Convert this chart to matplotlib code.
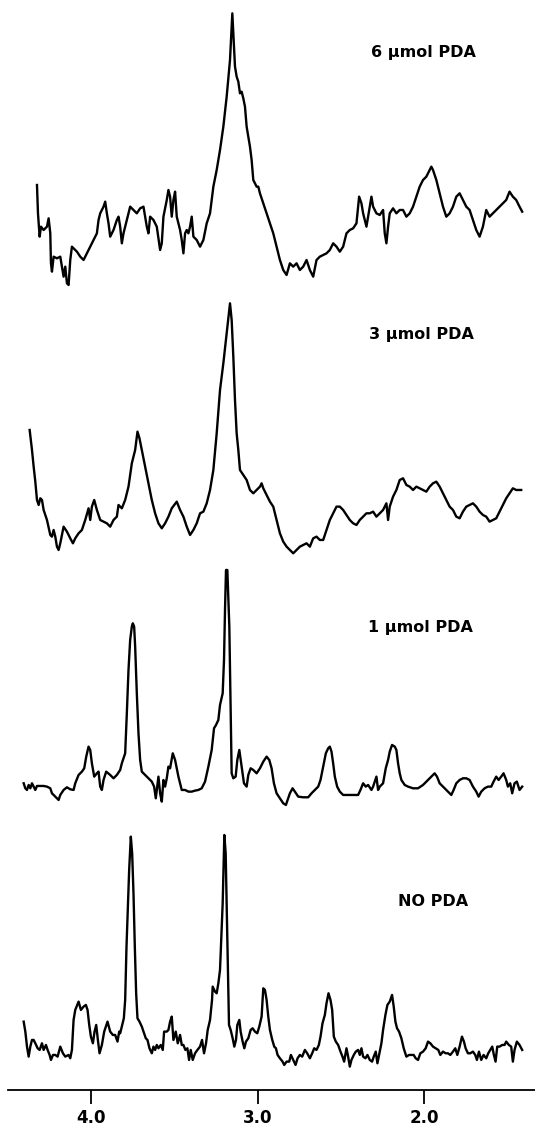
import matplotlib
matplotlib.use("Agg")
import matplotlib.pyplot as plt

# chemical shift (ppm) and intensity (arbitrary units)
ppm_6 = [4.326, 4.320, 4.310, 4.302, 4.286, 4.266, 4.256, 4.246, 4.242, 4.236, 4.226, 4.206, 4.186, 4.176,
         4.166, 4.156, 4.146, 4.136, 4.126, 4.116, 4.106, 4.086, 4.066, 4.046, 4.026, 4.006, 3.986, 3.966,
         3.956, 3.946, 3.926, 3.916, 3.906, 3.896, 3.886, 3.866, 3.846, 3.836, 3.826, 3.816, 3.806, 3.786,
         3.766, 3.746, 3.726, 3.706, 3.686, 3.666, 3.656, 3.646, 3.626, 3.606, 3.586, 3.576, 3.566, 3.546,
         3.536, 3.526, 3.516, 3.506, 3.496, 3.486, 3.466, 3.456, 3.446, 3.436, 3.426, 3.416, 3.406, 3.396,
         3.386, 3.366, 3.346, 3.326, 3.306, 3.286, 3.266, 3.246, 3.226, 3.206, 3.186, 3.166, 3.152, 3.146,
         3.136, 3.126, 3.116, 3.106, 3.096, 3.086, 3.076, 3.066, 3.056, 3.046, 3.036, 3.026, 3.016, 3.006,
         2.996, 2.986, 2.966, 2.946, 2.926, 2.906, 2.886, 2.866, 2.846, 2.826, 2.806, 2.786, 2.766, 2.746,
         2.726, 2.706, 2.686, 2.666, 2.646, 2.626, 2.606, 2.586, 2.566, 2.546, 2.526, 2.506, 2.486, 2.466,
         2.446, 2.426, 2.406, 2.390, 2.376, 2.366, 2.346, 2.326, 2.316, 2.306, 2.286, 2.266, 2.246, 2.236,
         2.226, 2.216, 2.206, 2.186, 2.166, 2.146, 2.126, 2.106, 2.086, 2.066, 2.046, 2.026, 2.006, 1.986,
         1.966, 1.956, 1.946, 1.926, 1.906, 1.886, 1.866, 1.846, 1.826, 1.806, 1.786, 1.766, 1.746, 1.726,
         1.706, 1.686, 1.666, 1.646, 1.626, 1.606, 1.586, 1.566, 1.546, 1.526, 1.506, 1.486, 1.466, 1.446,
         1.426, 1.410]
int_6 = [305, 220, 150, 180, 170, 180, 205, 160, 70, 45, 90, 85, 90, 60,
         30, 60, 10, 5, 80, 120, 115, 105, 90, 80, 100, 120, 140, 160,
         200, 220, 240, 255, 220, 190, 150, 170, 200, 210, 180, 130, 160, 200,
         240, 230, 220, 235, 240, 180, 160, 210, 200, 180, 110, 130, 210, 260,
         290, 270, 210, 260, 285, 210, 170, 140, 100, 160, 170, 160, 180, 210,
         150, 140, 120, 140, 190, 220, 300, 350, 410, 480, 570, 680, 820, 760,
         660, 630, 615, 580, 585, 565, 540, 480, 450, 420, 380, 320, 310, 300,
         300, 280, 250, 220, 190, 160, 120, 80, 50, 35, 70, 60, 70, 50,
         60, 80, 50, 30, 80, 90, 95, 100, 110, 130, 120, 105, 120, 160,
         170, 175, 190, 270, 250, 220, 180, 240, 270, 240, 220, 215, 230, 160,
         130, 180, 220, 235, 220, 230, 230, 210, 220, 240, 270, 300, 320, 330,
         350, 360, 350, 320, 280, 240, 210, 220, 240, 270, 280, 260, 240, 230,
         200, 170, 150, 180, 230, 210, 220, 230, 240, 250, 260, 285, 270, 260,
         240, 225]

ppm_3 = [4.370, 4.356, 4.346, 4.336, 4.326, 4.316, 4.306, 4.296, 4.286, 4.266, 4.246, 4.236, 4.226, 4.216,
         4.206, 4.196, 4.186, 4.166, 4.146, 4.126, 4.110, 4.096, 4.076, 4.056, 4.036, 4.016, 4.006, 3.996,
         3.982, 3.966, 3.946, 3.926, 3.906, 3.886, 3.866, 3.846, 3.836, 3.816, 3.796, 3.776, 3.756, 3.736,
         3.722, 3.710, 3.696, 3.676, 3.656, 3.636, 3.616, 3.596, 3.576, 3.556, 3.536, 3.516, 3.486, 3.466,
         3.446, 3.426, 3.406, 3.386, 3.366, 3.346, 3.326, 3.306, 3.286, 3.266, 3.246, 3.226, 3.206, 3.186,
         3.166, 3.156, 3.146, 3.136, 3.126, 3.116, 3.106, 3.086, 3.066, 3.046, 3.026, 3.006, 2.986, 2.976,
         2.966, 2.946, 2.926, 2.906, 2.886, 2.866, 2.846, 2.826, 2.806, 2.786, 2.766, 2.746, 2.726, 2.706,
         2.686, 2.666, 2.646, 2.626, 2.606, 2.586, 2.566, 2.546, 2.526, 2.506, 2.486, 2.466, 2.446, 2.426,
         2.406, 2.386, 2.366, 2.346, 2.326, 2.306, 2.286, 2.266, 2.246, 2.226, 2.216, 2.206, 2.186, 2.166,
         2.146, 2.126, 2.106, 2.086, 2.066, 2.046, 2.026, 2.006, 1.986, 1.966, 1.946, 1.926, 1.906, 1.886,
         1.866, 1.846, 1.826, 1.806, 1.786, 1.766, 1.746, 1.726, 1.706, 1.686, 1.666, 1.646, 1.626, 1.606,
         1.586, 1.566, 1.546, 1.526, 1.506, 1.486, 1.466, 1.446, 1.416]
int_3 = [380, 320, 270, 225, 170, 155, 175, 170, 140, 110, 65, 60, 80, 60,
         30, 20, 40, 90, 75, 55, 40, 55, 70, 80, 110, 145, 110, 150,
         170, 140, 110, 105, 100, 90, 110, 120, 155, 145, 170, 210, 280, 320,
         375, 355, 320, 270, 220, 170, 130, 100, 85, 100, 120, 145, 165, 140,
         120, 90, 65, 80, 100, 130, 135, 160, 200, 260, 370, 500, 580, 670,
         760, 710, 600, 470, 370, 320, 260, 245, 230, 200, 190, 200, 210, 220,
         205, 185, 165, 150, 110, 70, 45, 30, 20, 10, 20, 30, 35, 40,
         30, 55, 60, 50, 50, 80, 110, 130, 150, 150, 140, 125, 110, 100,
         95, 110, 120, 130, 130, 135, 120, 130, 140, 160, 110, 150, 180, 200,
         230, 235, 215, 210, 200, 210, 205, 200, 195, 210, 220, 225, 210, 190,
         170, 150, 140, 120, 115, 135, 150, 155, 160, 150, 135, 125, 120, 105,
         110, 115, 135, 155, 175, 190, 205, 200, 200]

ppm_1 = [4.406, 4.396, 4.386, 4.376, 4.366, 4.356, 4.346, 4.336, 4.326, 4.306, 4.286, 4.266, 4.246, 4.236,
         4.216, 4.196, 4.186, 4.166, 4.146, 4.126, 4.106, 4.096, 4.076, 4.056, 4.042, 4.030, 4.016, 4.006,
         3.996, 3.982, 3.966, 3.956, 3.946, 3.936, 3.926, 3.910, 3.886, 3.866, 3.846, 3.826, 3.816, 3.796,
         3.786, 3.776, 3.766, 3.756, 3.750, 3.742, 3.736, 3.726, 3.716, 3.706, 3.696, 3.676, 3.656, 3.636,
         3.622, 3.612, 3.606, 3.596, 3.586, 3.576, 3.566, 3.556, 3.546, 3.536, 3.526, 3.510, 3.496, 3.476,
         3.456, 3.436, 3.416, 3.396, 3.376, 3.356, 3.336, 3.316, 3.296, 3.276, 3.262, 3.250, 3.236, 3.226,
         3.210, 3.202, 3.196, 3.190, 3.182, 3.176, 3.170, 3.162, 3.156, 3.146, 3.132, 3.122, 3.110, 3.096,
         3.082, 3.066, 3.056, 3.042, 3.026, 3.006, 2.986, 2.966, 2.946, 2.930, 2.916, 2.902, 2.886, 2.866,
         2.846, 2.830, 2.816, 2.806, 2.790, 2.776, 2.756, 2.726, 2.696, 2.676, 2.656, 2.636, 2.622, 2.606,
         2.590, 2.576, 2.566, 2.556, 2.546, 2.536, 2.522, 2.506, 2.486, 2.456, 2.426, 2.396, 2.382, 2.366,
         2.350, 2.336, 2.316, 2.306, 2.286, 2.276, 2.266, 2.246, 2.230, 2.216, 2.206, 2.192, 2.176, 2.166,
         2.156, 2.146, 2.136, 2.116, 2.096, 2.066, 2.036, 2.006, 1.986, 1.966, 1.946, 1.936, 1.922, 1.906,
         1.886, 1.866, 1.846, 1.836, 1.822, 1.806, 1.786, 1.766, 1.746, 1.726, 1.706, 1.686, 1.672, 1.656,
         1.636, 1.616, 1.596, 1.582, 1.566, 1.552, 1.536, 1.522, 1.506, 1.496, 1.482, 1.470, 1.456, 1.442,
         1.426, 1.410]
int_1 = [70, 55, 50, 65, 55, 70, 60, 50, 62, 62, 62, 60, 55, 40,
         30, 20, 35, 50, 58, 52, 50, 70, 95, 105, 115, 150, 180, 170,
         130, 90, 100, 105, 60, 50, 80, 105, 95, 85, 95, 110, 130, 160,
         280, 410, 500, 540, 550, 540, 480, 340, 220, 140, 105, 95, 85, 75,
         60, 25, 50, 90, 40, 15, 80, 60, 85, 120, 115, 160, 140, 90,
         50, 50, 45, 45, 48, 50, 55, 75, 120, 170, 235, 245, 260, 305,
         340, 440, 590, 710, 710, 620, 540, 290, 100, 85, 90, 140, 170, 120,
         70, 60, 95, 115, 110, 100, 115, 135, 150, 140, 115, 70, 40, 25,
         10, 5, 25, 40, 55, 45, 30, 28, 28, 40, 50, 60, 80, 120,
         160, 175, 180, 165, 130, 90, 60, 45, 35, 35, 35, 35, 50, 70,
         60, 65, 50, 60, 90, 50, 60, 70, 115, 140, 165, 185, 180, 170,
         130, 100, 80, 65, 60, 55, 55, 65, 75, 85, 95, 100, 90, 70,
         60, 50, 40, 35, 50, 70, 80, 85, 85, 80, 60, 45, 30, 45,
         55, 60, 60, 75, 90, 80, 90, 100, 80, 60, 70, 40, 70, 75,
         50, 60]

ppm_0 = [4.406, 4.396, 4.386, 4.376, 4.366, 4.356, 4.346, 4.336, 4.322, 4.310, 4.296, 4.286, 4.272, 4.262,
         4.250, 4.242, 4.230, 4.216, 4.202, 4.186, 4.170, 4.156, 4.136, 4.126, 4.116, 4.106, 4.096, 4.076,
         4.062, 4.046, 4.032, 4.022, 4.012, 4.002, 3.990, 3.980, 3.970, 3.960, 3.950, 3.936, 3.922, 3.902,
         3.886, 3.870, 3.856, 3.842, 3.832, 3.826, 3.814, 3.804, 3.796, 3.788, 3.780, 3.772, 3.762, 3.754,
         3.746, 3.738, 3.730, 3.722, 3.710, 3.696, 3.686, 3.672, 3.662, 3.650, 3.636, 3.626, 3.616, 3.606,
         3.596, 3.582, 3.570, 3.562, 3.546, 3.536, 3.526, 3.516, 3.506, 3.492, 3.480, 3.466, 3.456, 3.446,
         3.434, 3.422, 3.412, 3.402, 3.390, 3.376, 3.362, 3.346, 3.334, 3.322, 3.310, 3.300, 3.286, 3.274,
         3.270, 3.256, 3.246, 3.236, 3.226, 3.216, 3.210, 3.204, 3.200, 3.192, 3.186, 3.178, 3.172, 3.162,
         3.150, 3.140, 3.130, 3.122, 3.110, 3.102, 3.090, 3.080, 3.070, 3.056, 3.042, 3.030, 3.016, 3.002,
         2.990, 2.976, 2.966, 2.956, 2.946, 2.936, 2.926, 2.912, 2.900, 2.890, 2.880, 2.866, 2.850, 2.840,
         2.826, 2.810, 2.800, 2.786, 2.772, 2.760, 2.746, 2.732, 2.716, 2.702, 2.686, 2.672, 2.660, 2.646,
         2.632, 2.622, 2.610, 2.596, 2.586, 2.574, 2.562, 2.552, 2.542, 2.530, 2.516, 2.502, 2.490, 2.480,
         2.466, 2.456, 2.446, 2.436, 2.422, 2.410, 2.396, 2.386, 2.376, 2.366, 2.352, 2.340, 2.326, 2.312,
         2.302, 2.290, 2.280, 2.270, 2.256, 2.246, 2.232, 2.220, 2.206, 2.192, 2.182, 2.172, 2.162, 2.150,
         2.136, 2.122, 2.106, 2.090, 2.076, 2.062, 2.050, 2.036, 2.022, 2.006, 1.990, 1.976, 1.962, 1.946,
         1.930, 1.914, 1.902, 1.886, 1.870, 1.856, 1.842, 1.826, 1.812, 1.800, 1.786, 1.772, 1.760, 1.750,
         1.736, 1.722, 1.706, 1.692, 1.682, 1.670, 1.656, 1.642, 1.626, 1.614, 1.602, 1.590, 1.580, 1.570,
         1.560, 1.546, 1.530, 1.516, 1.506, 1.490, 1.476, 1.466, 1.456, 1.442, 1.426, 1.410]
int_0 = [145, 115, 70, 40, 70, 90, 90, 80, 65, 60, 80, 60, 75, 60,
         45, 30, 45, 45, 40, 70, 50, 40, 45, 35, 60, 150, 180, 205,
         180, 190, 195, 180, 135, 100, 80, 115, 135, 90, 50, 75, 115, 145,
         115, 105, 105, 85, 115, 110, 135, 155, 210, 370, 490, 600, 700, 650,
         530, 370, 230, 155, 145, 130, 115, 95, 90, 65, 50, 70, 60, 75,
         65, 75, 60, 115, 115, 120, 145, 160, 90, 115, 80, 105, 75, 75,
         60, 65, 30, 60, 30, 50, 60, 70, 90, 50, 80, 120, 150, 210,
         250, 235, 230, 260, 300, 420, 500, 630, 705, 650, 500, 300, 135, 120,
         95, 70, 90, 135, 150, 115, 85, 65, 85, 95, 120, 125, 115, 110,
         130, 160, 245, 240, 210, 160, 120, 90, 70, 65, 45, 35, 25, 15,
         25, 25, 45, 30, 15, 35, 45, 40, 60, 50, 35, 50, 65, 60,
         75, 100, 140, 165, 200, 230, 210, 180, 100, 85, 75, 55, 40, 25,
         65, 40, 10, 30, 45, 55, 60, 45, 65, 40, 35, 45, 30, 25,
         40, 55, 20, 45, 80, 120, 165, 195, 205, 225, 190, 145, 125, 115,
         95, 65, 40, 45, 45, 45, 35, 30, 50, 55, 65, 85, 80, 70,
         65, 60, 45, 55, 50, 50, 45, 55, 65, 45, 70, 100, 85, 65,
         50, 50, 55, 45, 30, 55, 30, 45, 35, 50, 60, 70, 45, 25,
         70, 70, 75, 75, 85, 75, 70, 25, 60, 85, 75, 60]

labels = ["6 µmol PDA", "3 µmol PDA", "1 µmol PDA", "NO PDA"]
offsets = [2410, 1600, 850, 60]
label_pos = [(2.006, 3111), (2.016, 2265), (2.022, 1386), (1.946, 564)]
tick_vals = [4.0, 3.0, 2.0]
tick_labels = ["4.0", "3.0", "2.0"]

fig = plt.figure(figsize=(5.35, 11.33), dpi=100)
ax = fig.add_axes([0.015, 0.038, 0.985, 0.962])

spectra = [(ppm_6, int_6), (ppm_3, int_3), (ppm_1, int_1), (ppm_0, int_0)]
for (x, y), off, lab, (lx, ly) in zip(spectra, offsets, labels, label_pos):
    ax.plot(x, [v + off for v in y], color="black", lw=1.7, solid_joinstyle="round")
    ax.text(lx, ly, lab, ha="center", va="center", fontsize=11.5, fontweight="bold")

ax.set_xlim(4.5, 1.333)
ax.set_ylim(0, 3270)
ax.set_xticks(tick_vals)
ax.set_xticklabels(tick_labels, fontsize=12, fontweight="bold")
ax.set_yticks([])
for s in ["top", "right", "left"]:
    ax.spines[s].set_visible(False)
ax.spines["bottom"].set_linewidth(1.3)
ax.tick_params(axis="x", direction="out", length=10, width=1.3, pad=4)

fig.savefig("out.png", dpi=100)
